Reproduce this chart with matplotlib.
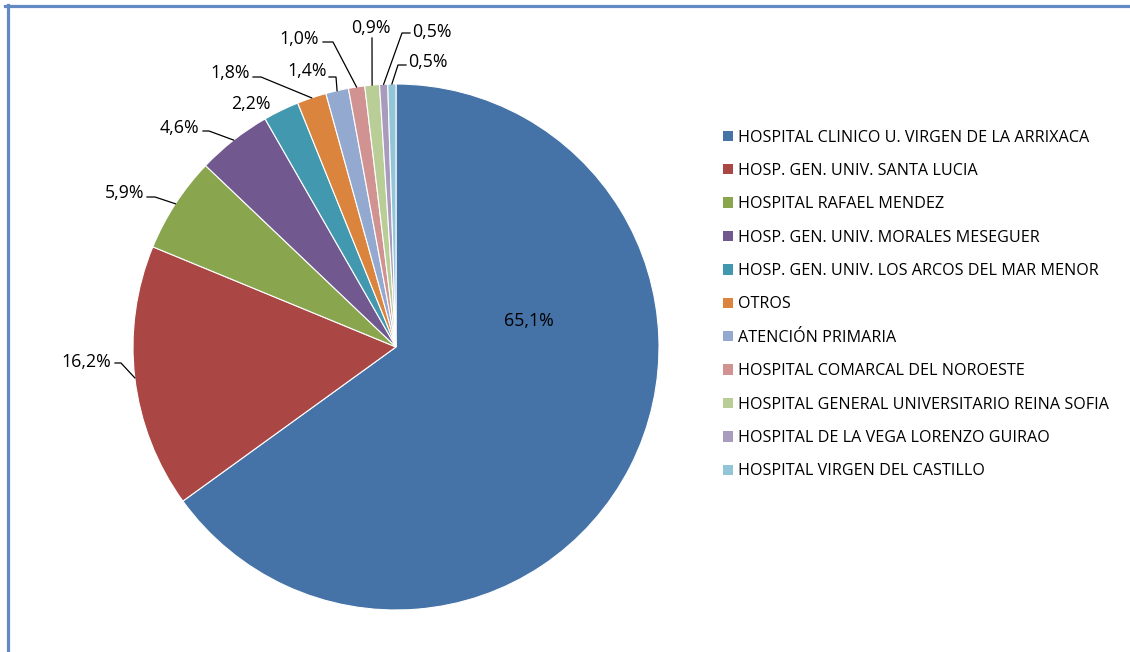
import matplotlib
matplotlib.use("Agg")
import matplotlib.pyplot as plt
import numpy as np
from matplotlib.lines import Line2D

plt.rcParams['font.family'] = ['Open Sans', 'DejaVu Sans']

# data
hospitales = [
    'HOSPITAL CLINICO U. VIRGEN DE LA ARRIXACA',
    'HOSP. GEN. UNIV. SANTA LUCIA',
    'HOSPITAL RAFAEL MENDEZ',
    'HOSP. GEN. UNIV. MORALES MESEGUER',
    'HOSP. GEN. UNIV. LOS ARCOS DEL MAR MENOR',
    'OTROS',
    'ATENCIÓN PRIMARIA',
    'HOSPITAL COMARCAL DEL NOROESTE',
    'HOSPITAL GENERAL UNIVERSITARIO REINA SOFIA',
    'HOSPITAL DE LA VEGA LORENZO GUIRAO',
    'HOSPITAL VIRGEN DEL CASTILLO',
]
porcentajes = [65.1, 16.2, 5.9, 4.6, 2.2, 1.8, 1.4, 1.0, 0.9, 0.5, 0.5]

colores = ['#4572A7', '#AA4643', '#89A54E', '#71588F', '#4198AF', '#DB843D',
           '#93A9CF', '#D19392', '#B9CD96', '#A99BBD', '#92C5D8']

W, H = 1130, 652
def py(y):
    # pixel row -> data y
    return H - y

# label layout: (x, y, ha, elbow points) in pixels
etiquetas = [
    (529, 321, 'center', None),
    (111, 362, 'right', [(115, 363), (121, 363)]),
    (144, 193, 'right', [(147, 197), (155, 197)]),
    (199, 128, 'right', [(203, 131), (209, 131)]),
    (251, 104, 'center', None),
    (250, 73, 'right', [(253, 77), (261, 77)]),
    (327, 71, 'right', [(329, 77), (336, 77)]),
    (319, 39, 'right', [(323, 42), (333, 42)]),
    (371, 28, 'center', [(372, 38)]),
    (412, 32, 'left', [(410, 33), (402, 33)]),
    (408, 62, 'left', [(406, 65), (398, 65)]),
]

fig = plt.figure(figsize=(W / 100, H / 100), dpi=100)
ax = fig.add_axes([0, 0, 1, 1])

cx, cy, r = 396, py(347), 263
wedges, _ = ax.pie(porcentajes, colors=colores, startangle=90, counterclock=False,
                   center=(cx, cy), radius=r,
                   wedgeprops=dict(edgecolor='white', linewidth=0.8))
ax.set_xlim(0, W)
ax.set_ylim(0, H)
ax.axis('off')

for w, v, (tx, ty, ha, pts) in zip(wedges, porcentajes, etiquetas):
    txt = ('%.1f' % v).replace('.', ',') + '%'
    ax.text(tx, py(ty), txt, ha=ha, va='center', fontsize=12.8, color='black')
    if pts:
        ang = np.deg2rad((w.theta1 + w.theta2) / 2)
        ex, ey = cx + r * np.cos(ang), cy + r * np.sin(ang)
        xs = [p[0] for p in pts] + [ex]
        ys = [py(p[1]) for p in pts] + [ey]
        ax.plot(xs, ys, color='black', lw=0.9)

leg = ax.legend(wedges, hospitales, loc='center left',
                bbox_to_anchor=(723 / W, py(304.5) / H),
                frameon=False, fontsize=11.6, borderpad=0, borderaxespad=0,
                handlelength=0.62, handleheight=0.62, handletextpad=0.3,
                labelspacing=1.08)
for h in leg.legend_handles:
    h.set_edgecolor('none')

# frame lines (top and left)
fig.add_artist(Line2D([5 / W, 1], [py(6) / H, py(6) / H], color='#6389C4', lw=2.3))
fig.add_artist(Line2D([7.5 / W, 7.5 / W], [0, py(5) / H], color='#6389C4', lw=2.3))

fig.savefig('out.png', dpi=100)
